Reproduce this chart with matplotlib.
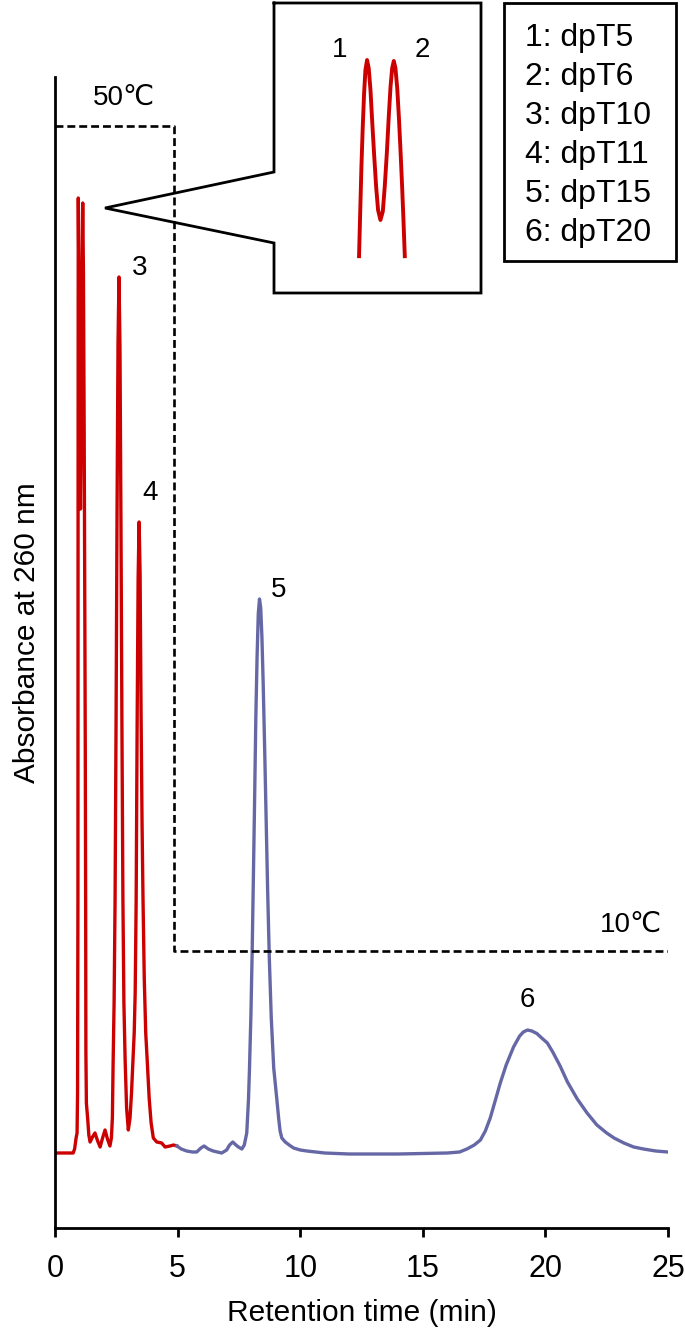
import matplotlib.pyplot as plt
from matplotlib.patches import Rectangle
from matplotlib.lines import Line2D

plt.rcParams['font.family'] = ['Liberation Sans', 'DejaVu Sans']

# chromatogram (time in min, absorbance in a.u.)
red_time = [0, 0.74, 0.80, 0.86, 0.90, 0.92, 0.935, 0.94, 0.945, 0.95, 0.98, 1.01, 1.04,
            1.07, 1.10, 1.13, 1.16, 1.19, 1.215, 1.235, 1.25, 1.26, 1.28, 1.33, 1.38, 1.43,
            1.53, 1.63, 1.74, 1.84, 1.94, 2.04, 2.14, 2.24, 2.30, 2.34, 2.37, 2.41, 2.45,
            2.49, 2.53, 2.57, 2.61, 2.65, 2.69, 2.73, 2.77, 2.81, 2.86, 2.92, 2.99, 3.06,
            3.12, 3.18, 3.23, 3.27, 3.31, 3.35, 3.39, 3.43, 3.47, 3.51, 3.55, 3.59, 3.64,
            3.70, 3.76, 3.84, 3.92, 4.01, 4.15, 4.35, 4.49, 4.69, 4.83, 4.97]
red_abs = [0, 0, 0.004, 0.015, 0.02, 0.06, 0.25, 0.6, 0.85, 0.955, 0.85, 0.70, 0.644,
           0.72, 0.88, 0.950, 0.88, 0.72, 0.55, 0.40, 0.25, 0.10, 0.05, 0.035, 0.018, 0.011,
           0.016, 0.020, 0.012, 0.006, 0.015, 0.023, 0.014, 0.007, 0.015, 0.035, 0.090, 0.150, 0.253,
           0.430, 0.640, 0.810, 0.876, 0.805, 0.630, 0.425, 0.253, 0.150, 0.093, 0.045, 0.023, 0.035,
           0.060, 0.093, 0.120, 0.160, 0.253, 0.430, 0.575, 0.631, 0.580, 0.440, 0.330, 0.253, 0.175,
           0.120, 0.093, 0.055, 0.030, 0.015, 0.011, 0.010, 0.006, 0.007, 0.008, 0.007]

blue_time = [4.97, 5.15, 5.37, 5.60, 5.78, 5.95, 6.08, 6.25, 6.45, 6.80, 7.00, 7.12, 7.25,
             7.38, 7.48, 7.62, 7.72, 7.82, 7.89, 7.93, 7.99, 8.04, 8.09, 8.14, 8.19, 8.24,
             8.29, 8.34, 8.39, 8.44, 8.49, 8.55, 8.61, 8.67, 8.74, 8.82, 8.92, 9.05, 9.12,
             9.18, 9.25, 9.39, 9.55, 9.73, 10.0, 10.27, 11.0, 12.0, 14.0, 16.0, 16.5, 16.8,
             17.1, 17.35, 17.55, 17.75, 17.95, 18.16, 18.4, 18.7, 18.95, 19.1, 19.27, 19.45,
             19.65, 19.85, 20.08, 20.3, 20.6, 20.9, 21.3, 21.7, 22.1, 22.5, 22.8, 23.2, 23.6,
             24.0, 24.5, 25.0]
blue_abs = [0.007, 0.004, 0.002, 0.001, 0.001, 0.005, 0.007, 0.004, 0.002, 0.000, 0.003, 0.008, 0.011,
            0.008, 0.006, 0.004, 0.008, 0.020, 0.053, 0.083, 0.138, 0.200, 0.275, 0.352, 0.435, 0.495,
            0.539, 0.554, 0.545, 0.515, 0.470, 0.405, 0.335, 0.265, 0.195, 0.135, 0.085, 0.053, 0.035,
            0.022, 0.015, 0.011, 0.008, 0.005, 0.003, 0.002, 0.000, -0.001, -0.001, 0.000, 0.001, 0.004,
            0.008, 0.013, 0.022, 0.035, 0.052, 0.070, 0.088, 0.106, 0.117, 0.121, 0.123, 0.122,
            0.1195, 0.115, 0.110, 0.101, 0.087, 0.071, 0.054, 0.040, 0.028, 0.020, 0.015, 0.010, 0.006,
            0.004, 0.002, 0.001]

# column temperature program (drawn on the same scale)
temp_time = [0, 4.87, 4.87, 25]
temp_level = [1.027, 1.027, 0.202, 0.202]

# enlarged view of peaks 1 and 2
inset_time = [0.896, 0.903, 0.912, 0.921, 0.930, 0.939, 0.950, 0.961, 0.973, 0.984, 0.997,
              1.011, 1.024, 1.040, 1.056, 1.069, 1.083, 1.096, 1.108, 1.119, 1.130, 1.141,
              1.153, 1.164, 1.175, 1.186, 1.195, 1.204]
inset_abs = [0.543, 0.626, 0.731, 0.815, 0.885, 0.934, 0.955, 0.938, 0.892, 0.829, 0.759,
             0.689, 0.640, 0.619, 0.637, 0.689, 0.759, 0.836, 0.899, 0.938, 0.953, 0.938,
             0.896, 0.836, 0.766, 0.689, 0.619, 0.543]

peak_names = ['3', '4', '5', '6']
peak_name_t = [3.47, 3.88, 9.10, 19.27]
peak_name_a = [0.885, 0.660, 0.563, 0.153]

legend_lines = ['1: dpT5', '2: dpT6', '3: dpT10', '4: dpT11', '5: dpT15', '6: dpT20']

W, H = 685, 1338


def fx(x):
    return x / W


def fy(y):
    return 1 - y / H


fig = plt.figure(figsize=(W / 100, H / 100), dpi=100)
ax = fig.add_axes([fx(55), fy(1228), (668 - 55) / W, (1228 - 77) / H])

red = '#cc0000'
blue = '#6668a6'
ax.plot(red_time, red_abs, color=red, lw=2.4, solid_joinstyle='round')
ax.plot(blue_time, blue_abs, color=blue, lw=2.4, solid_joinstyle='round')
ax.plot(temp_time, temp_level, color='black', lw=1.9, ls=(0, (3.0, 1.5)))

for name, t, a in zip(peak_names, peak_name_t, peak_name_a):
    ax.text(t, a, name, fontsize=20, ha='center', va='center')
ax.text(2.82, 1.055, '50℃', fontsize=20, ha='center', va='center')
ax.text(23.47, 0.228, '10℃', fontsize=20, ha='center', va='center')

ax.set_xlim(0, 25)
ax.set_ylim(-0.075, 1.076)
ax.set_xticks([0, 5, 10, 15, 20, 25])
ax.set_yticks([])
ax.spines['top'].set_visible(False)
ax.spines['right'].set_visible(False)
for s in ['left', 'bottom']:
    ax.spines[s].set_linewidth(2.0)
ax.tick_params(axis='x', direction='out', length=6.5, width=2.0, labelsize=22, pad=12)
ax.set_xlabel('Retention time (min)', fontsize=21.5)
ax.xaxis.set_label_coords(0.5, -0.062)
ax.set_ylabel('Absorbance at 260 nm', fontsize=21.5)
ax.yaxis.set_label_coords(-0.023, 0.517)

# callout box with pointer towards peaks 1/2
bx = [274, 481, 481, 274, 274, 105, 274, 274]
by = [3, 3, 293, 293, 243, 208, 172, 3]
fig.add_artist(Line2D([fx(v) for v in bx], [fy(v) for v in by], color='black', lw=2.0,
                      transform=fig.transFigure, solid_joinstyle='miter'))

ins = fig.add_axes([fx(274), fy(293), (481 - 274) / W, (293 - 3) / H])
ins.plot(inset_time, inset_abs, color=red, lw=2.8)
ins.set_xlim(0.3235, 1.717)
ins.set_ylim(0.4657, 1.0747)
ins.axis('off')
ins.text(0.766, 0.976, '1', fontsize=20, ha='center', va='center')
ins.text(1.319, 0.976, '2', fontsize=20, ha='center', va='center')

# legend box
fig.add_artist(Rectangle((fx(504), fy(261)), (676 - 504) / W, (261 - 3) / H, fill=False,
                         ec='black', lw=2.0, transform=fig.transFigure))
for i, line in enumerate(legend_lines):
    fig.text(fx(525), fy(46 + 39 * i), line, fontsize=23, ha='left', va='baseline')

fig.savefig('out.png', dpi=100)
